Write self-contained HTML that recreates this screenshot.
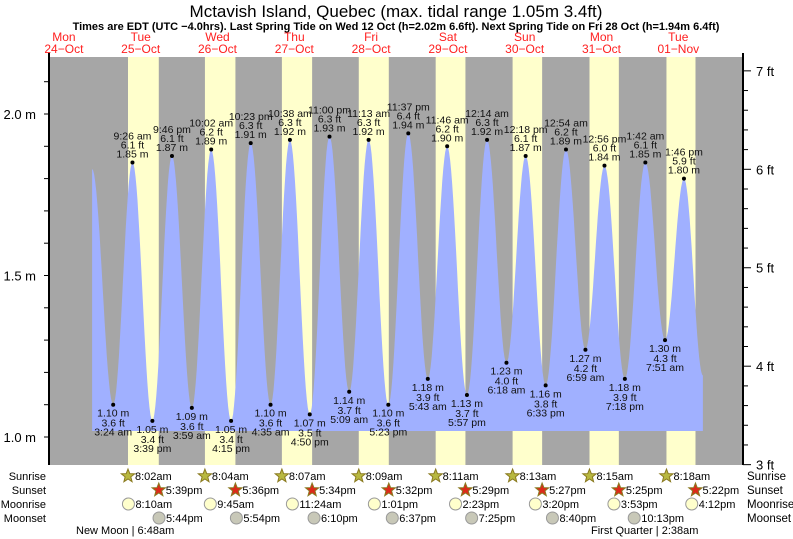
<!DOCTYPE html>
<html><head><meta charset="utf-8"><style>
body{margin:0;background:#fff;}
svg{display:block;font-family:"Liberation Sans",sans-serif;}
</style></head><body>
<svg id="chart" width="793" height="539" viewBox="0 0 793 539">
<text x="396" y="17" text-anchor="middle" font-size="17" fill="#000">Mctavish Island, Quebec (max. tidal range 1.05m 3.4ft)</text>
<text x="396" y="30" text-anchor="middle" font-size="11" font-weight="bold" fill="#000">Times are EDT (UTC −4.0hrs). Last Spring Tide on Wed 12 Oct (h=2.02m 6.6ft). Next Spring Tide on Fri 28 Oct (h=1.94m 6.4ft)</text>
<g id="bg"></g><g id="tide"></g><g id="axes"></g><g id="labels"></g><g id="days"></g><g id="astro"></g>
</svg>
<script>
// ---- data ----
const dayNames = ["Mon","Tue","Wed","Thu","Fri","Sat","Sun","Mon","Tue"];
const dayDates = ["24−Oct","25−Oct","26−Oct","27−Oct","28−Oct","29−Oct","30−Oct","31−Oct","01−Nov"];
// tide extremes: hours since 25-Oct 00:00, height m
const tideHours = [-3.2,3.4,9.43,15.65,21.77,27.98,34.03,40.25,46.38,52.58,58.63,64.83,71.0,77.15,83.22,89.38,95.62,101.72,107.77,113.95,120.23,126.3,132.3,138.55,144.9,150.98,156.93,163.3,169.7,175.85,181.77,187.7];
const tideHeights = [1.83,1.10,1.85,1.05,1.87,1.09,1.89,1.05,1.91,1.10,1.92,1.07,1.93,1.14,1.92,1.10,1.94,1.18,1.90,1.13,1.92,1.23,1.87,1.16,1.89,1.27,1.84,1.18,1.85,1.30,1.80,1.19];
const tideTimes = ["","3:24 am","9:26 am","3:39 pm","9:46 pm","3:59 am","10:02 am","4:15 pm","10:23 pm","4:35 am","10:38 am","4:50 pm","11:00 pm","5:09 am","11:13 am","5:23 pm","11:37 pm","5:43 am","11:46 am","5:57 pm","12:14 am","6:18 am","12:18 pm","6:33 pm","12:54 am","6:59 am","12:56 pm","7:18 pm","1:42 am","7:51 am","1:46 pm",""];
const tideFeet = ["","3.6 ft","6.1 ft","3.4 ft","6.1 ft","3.6 ft","6.2 ft","3.4 ft","6.3 ft","3.6 ft","6.3 ft","3.5 ft","6.3 ft","3.7 ft","6.3 ft","3.6 ft","6.4 ft","3.9 ft","6.2 ft","3.7 ft","6.3 ft","4.0 ft","6.1 ft","3.8 ft","6.2 ft","4.2 ft","6.0 ft","3.9 ft","6.1 ft","4.3 ft","5.9 ft",""];
// sun/moon: hours since that day's midnight, days 25-Oct .. 01-Nov
const sunriseH = [8.03,8.07,8.12,8.15,8.18,8.22,8.25,8.3];
const sunriseT = ["8:02am","8:04am","8:07am","8:09am","8:11am","8:13am","8:15am","8:18am"];
const sunsetH = [17.65,17.6,17.57,17.53,17.48,17.45,17.42,17.37];
const sunsetT = ["5:39pm","5:36pm","5:34pm","5:32pm","5:29pm","5:27pm","5:25pm","5:22pm"];
const moonriseH = [8.17,9.75,11.4,13.02,14.38,15.33,15.88,16.2];
const moonriseT = ["8:10am","9:45am","11:24am","1:01pm","2:23pm","3:20pm","3:53pm","4:12pm"];
const moonsetH = [17.73,17.9,18.17,18.62,19.42,20.67,22.22];
const moonsetT = ["5:44pm","5:54pm","6:10pm","6:37pm","7:25pm","8:40pm","10:13pm"];
const yTicksM = [1.0,1.5,2.0];
const yTicksFt = [3,4,5,6,7];

// ---- scales ----
const X0=49, X1=743, Y0=57, Y1=465;
function xs(h){return 102.3+h*3.2;}
function ym(m){return 437-(m-1.0)*323;}
function yft(f){return ym(f*0.3048);}
const NS="http://www.w3.org/2000/svg";
function mk(parent,tag,attrs,text){const e=document.createElementNS(NS,tag);for(const k in attrs)e.setAttribute(k,attrs[k]);if(text!==undefined)e.textContent=text;document.getElementById(parent).appendChild(e);return e;}

// background
let r=mk('bg','rect',{x:X0,y:Y0,width:X1-X0,height:Y1-Y0,fill:'#a6a6a6'});


for(let d=0;d<sunriseH.length;d++){
  const a=xs(d*24+sunriseH[d]), b=xs(d*24+sunsetH[d]);
  const e=mk('bg','rect',{x:a,y:Y0,width:b-a,height:Y1-Y0,fill:'#ffffcc'});
  
  
}
// tide curve
let pts=[];
const base=431;
for(let i=0;i<tideHours.length-1;i++){
  const h0=tideHours[i],h1=tideHours[i+1],v0=tideHeights[i],v1=tideHeights[i+1];
  for(let s=0;s<20;s++){const t=s/20;const f=(1-Math.cos(Math.PI*t))/2;pts.push([xs(h0+(h1-h0)*t),ym(v0+(v1-v0)*f)]);}
}
pts.push([xs(tideHours[tideHours.length-1]),ym(tideHeights[tideHeights.length-1])]);
let dstr='M'+pts[0][0].toFixed(1)+','+base+' '+pts.map(p=>'L'+p[0].toFixed(1)+','+p[1].toFixed(1)).join(' ')+' L'+pts[pts.length-1][0].toFixed(1)+','+base+'Z';
let tp=mk('tide','path',{d:dstr,fill:'#a0b0ff'});



// axes
let al=mk('axes','line',{x1:X0,y1:Y0-4,x2:X0,y2:Y1,stroke:'#000','stroke-width':2});


let ar=mk('axes','line',{x1:X1,y1:Y0-4,x2:X1,y2:Y1,stroke:'#000','stroke-width':2});


for(let m=0.9;m<=2.2;m+=0.1){const y=ym(m);if(y<Y0||y>Y1)continue;mk('axes','line',{x1:X0-5,y1:y,x2:X0,y2:y,stroke:'#000'});}
yTicksM.forEach(m=>{const t=mk('axes','text',{x:36,y:ym(m)+5,'text-anchor':'end','font-size':13},m.toFixed(1)+' m');

});
for(let f=3;f<=7.01;f+=0.2){const y=yft(f);mk('axes','line',{x1:X1,y1:y,x2:X1+(Math.abs(f-Math.round(f))<0.01?8:5),y2:y,stroke:'#000'});}
yTicksFt.forEach(f=>{const t=mk('axes','text',{x:756,y:yft(f)+5,'font-size':13},f+' ft');

});

// extreme labels
for(let i=0;i<tideHours.length;i++){
  if(!tideTimes[i])continue;
  const x=xs(tideHours[i]),y=ym(tideHeights[i]);
  const high=i%2===0;
  const c=mk('labels','circle',{cx:x,cy:y,r:2,fill:'#000'});
  
  
  const lines=high?[tideTimes[i],tideFeet[i],tideHeights[i].toFixed(2)+' m']:[tideHeights[i].toFixed(2)+' m',tideFeet[i],tideTimes[i]];
  const off=high?[-23,-14,-5]:[12,22,31];
  lines.forEach((s,k)=>{const t=mk('labels','text',{x:x,y:y+off[k],'text-anchor':'middle','font-size':10.5,fill:'#111'},s);
  
  });
}
// day headers
for(let d=0;d<dayNames.length;d++){
  const x=xs((d-1)*24+12);
  const a=mk('days','text',{x:x,y:41,'text-anchor':'middle','font-size':12,fill:'#ff2020'},dayNames[d]);
  
  
  const b=mk('days','text',{x:x,y:53,'text-anchor':'middle','font-size':12,fill:'#ff2020'},dayDates[d]);
  
  
}
// astro rows
const rowNames=["Sunrise","Sunset","Moonrise","Moonset"], rowY=[480,494,508,522];
rowNames.forEach((n,i)=>{
  const a=mk('astro','text',{x:46,y:rowY[i],'text-anchor':'end','font-size':11},n);
  
  
  const b=mk('astro','text',{x:747,y:rowY[i],'font-size':11.5},n);
  
  
});
function star(cx,cy,fill){let p='';for(let k=0;k<10;k++){const rr=k%2?3:7;const a=-Math.PI/2+k*Math.PI/5;p+=(cx+rr*Math.cos(a)).toFixed(1)+','+(cy+rr*Math.sin(a)).toFixed(1)+' ';}
  const s=mk('astro','polygon',{points:p,fill:fill,stroke:'#8a7a20','stroke-width':1});return s;}
function event(arr,txt,row,kind){
  arr.forEach((h,d)=>{const x=xs(d*24+h),y=rowY[row]-4;
    let ic;
    if(kind==='rise')ic=star(x,y,'#b8b840');
    else if(kind==='set')ic=star(x,y,'#dd2a1a');
    else ic=mk('astro','circle',{cx:x,cy:y,r:6,fill:kind==='mrise'?'#ffffcc':'#c8c8b8',stroke:'#999','stroke-width':1});
    
    
    const t=mk('astro','text',{x:x+7,y:rowY[row],'font-size':11},txt[d]);
    
    
  });
}
event(sunriseH,sunriseT,0,'rise');
event(sunsetH,sunsetT,1,'set');
event(moonriseH,moonriseT,2,'mrise');
event(moonsetH,moonsetT,3,'mset');
let nm=mk('astro','text',{x:76,y:534,'font-size':11},'New Moon | 6:48am');


let fq=mk('astro','text',{x:591,y:534,'font-size':11},'First Quarter | 2:38am');


</script>
</body></html>
